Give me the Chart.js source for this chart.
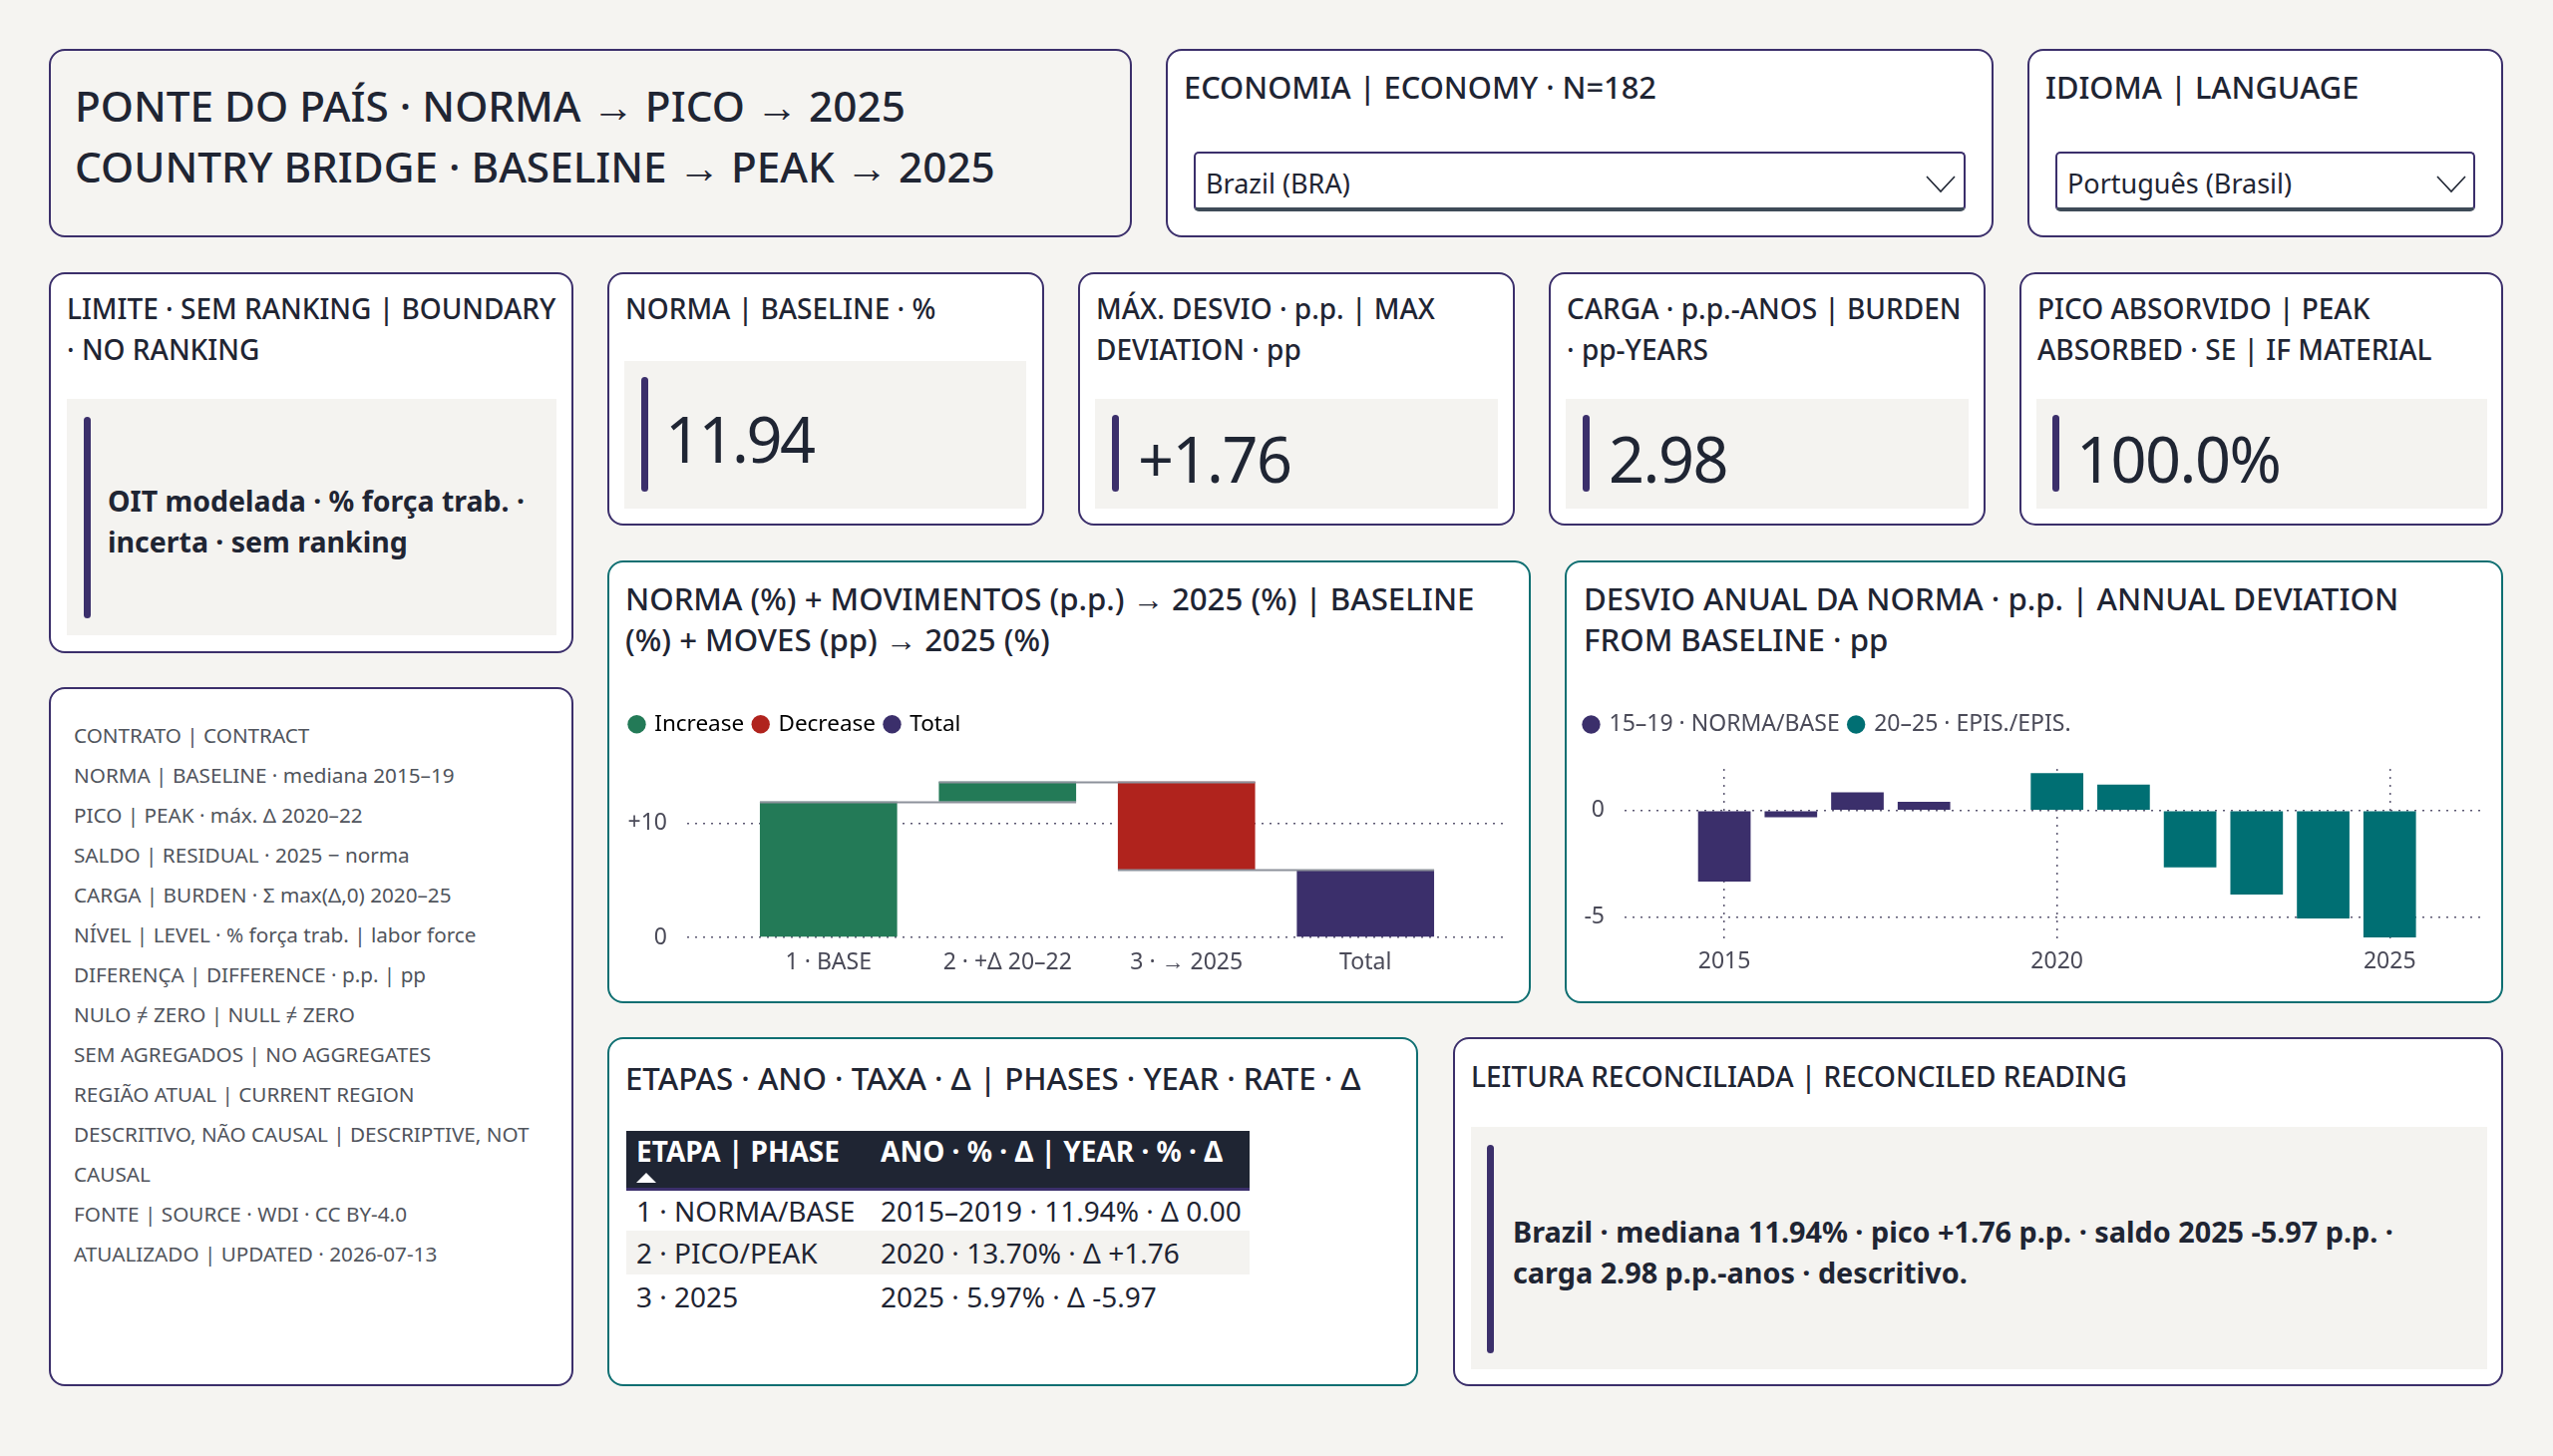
<!DOCTYPE html>
<html lang="pt-BR">
<head>
<meta charset="utf-8">
<title>Ponte do país · norma → pico → 2025</title>
<script src="https://cdn.jsdelivr.net/npm/chart.js@4.4.1/dist/chart.umd.min.js"></script>
<style>
  html, body { margin: 0; padding: 0; }
  body { width: 2560px; height: 1460px; background: #f5f4f1; position: relative; overflow: hidden;
         font-family: "Noto Sans", "Open Sans", sans-serif; color: #1f2533; }
  .card { position: absolute; box-sizing: border-box; background: #fff; border: 2.5px solid #3b2f6b; border-radius: 16px; }
  .teal { border-color: #0f6f72; }
  .t { position: absolute; white-space: nowrap; font-weight: 500; }
  .ktl { font-size: 28px; line-height: 41px; }
  .ctl { font-size: 31.2px; line-height: 41px; }
  .box { position: absolute; background: #f4f3f0; }
  .acc { position: absolute; width: 7px; background: #3b2f6b; border-radius: 4px; }
  .val { font-size: 63px; line-height: 64px; letter-spacing: -1.5px; font-weight: 400; }
  .note { font-size: 28.5px; line-height: 41px; font-weight: 700; }
  .dd { position: absolute; box-sizing: border-box; background: #fff; border: 2px solid #3b2f6b; border-bottom: 4px solid #3e4b58; border-radius: 5px; }
  .dd span { position: absolute; left: 10px; top: 12px; font-size: 27px; line-height: 36px; }
  .dd svg { position: absolute; top: 22px; }
  #list { font-weight: 400; }
  #list div { font-size: 20.7px; line-height: 40px; color: #50545c; white-space: nowrap; }
  #tbl { position: absolute; left: 628px; top: 1134px; width: 625px; border-collapse: collapse; }
  #tbl th { background: #1f2533; color: #fff; font-size: 28px; font-weight: 700; text-align: left; vertical-align: top;
            padding: 2px 0 0 10px; line-height: 36px; height: 55px; border-bottom: 3px solid #3b2f6b; white-space: nowrap; }
  #tbl td { font-size: 28px; line-height: 36px; padding: 0 0 0 10px; white-space: nowrap; }
  .tri { width: 0; height: 0; border-left: 10px solid transparent; border-right: 10px solid transparent; border-bottom: 10px solid #fff; margin-top: 4px; }
  canvas { position: absolute; }
</style>
</head>
<body>

<!-- header -->
<div class="card" style="left:49px;top:49px;width:1086px;height:189px;background:#f5f4f1"></div>
<div class="t" style="left:75px;top:75px;font-size:42.3px;line-height:61px">PONTE DO PAÍS · NORMA → PICO → 2025<br>COUNTRY BRIDGE · BASELINE → PEAK → 2025</div>

<div class="card" style="left:1169px;top:49px;width:830px;height:189px"></div>
<div class="t ctl" style="left:1187px;top:67px;font-size:30.8px">ECONOMIA | ECONOMY · N=182</div>
<div class="dd" style="left:1197px;top:152px;width:774px;height:60px"><span>Brazil (BRA)</span>
  <svg style="left:732px" width="30" height="18"><polyline points="1,1 15,16 29,1" fill="none" stroke="#1f2533" stroke-width="1.6"/></svg></div>

<div class="card" style="left:2033px;top:49px;width:477px;height:189px"></div>
<div class="t ctl" style="left:2051px;top:67px;font-size:30.8px">IDIOMA | LANGUAGE</div>
<div class="dd" style="left:2061px;top:152px;width:421px;height:60px"><span>Português (Brasil)</span>
  <svg style="left:380px" width="30" height="18"><polyline points="1,1 15,16 29,1" fill="none" stroke="#1f2533" stroke-width="1.6"/></svg></div>

<!-- KPI row -->
<div class="card" style="left:49px;top:273px;width:526px;height:382px"></div>
<div class="t ktl" style="left:67px;top:289px">LIMITE · SEM RANKING | BOUNDARY<br>· NO RANKING</div>
<div class="box" style="left:67px;top:400px;width:491px;height:237px"></div>
<div class="acc" style="left:84px;top:418px;height:202px"></div>
<div class="t note" style="left:108px;top:482px">OIT modelada · % força trab. ·<br>incerta · sem ranking</div>

<div class="card" style="left:609px;top:273px;width:438px;height:254px"></div>
<div class="t ktl" style="left:627px;top:289px">NORMA | BASELINE · %</div>
<div class="box" style="left:626px;top:362px;width:403px;height:148px"></div>
<div class="acc" style="left:643px;top:378px;height:115px"></div>
<div class="t val" style="left:667px;top:408px;letter-spacing:-2.5px">11.94</div>

<div class="card" style="left:1081px;top:273px;width:438px;height:254px"></div>
<div class="t ktl" style="left:1099px;top:289px">MÁX. DESVIO · p.p. | MAX<br>DEVIATION · pp</div>
<div class="box" style="left:1098px;top:400px;width:404px;height:110px"></div>
<div class="acc" style="left:1115px;top:416px;height:77px"></div>
<div class="t val" style="left:1141px;top:428px">+1.76</div>

<div class="card" style="left:1553px;top:273px;width:438px;height:254px"></div>
<div class="t ktl" style="left:1571px;top:289px">CARGA · p.p.-ANOS | BURDEN<br>· pp-YEARS</div>
<div class="box" style="left:1570px;top:400px;width:404px;height:110px"></div>
<div class="acc" style="left:1587px;top:416px;height:77px"></div>
<div class="t val" style="left:1613px;top:428px">2.98</div>

<div class="card" style="left:2025px;top:273px;width:485px;height:254px"></div>
<div class="t ktl" style="left:2043px;top:289px">PICO ABSORVIDO | PEAK<br>ABSORBED · SE | IF MATERIAL</div>
<div class="box" style="left:2042px;top:400px;width:452px;height:110px"></div>
<div class="acc" style="left:2058px;top:416px;height:77px"></div>
<div class="t val" style="left:2082px;top:428px">100.0%</div>

<!-- charts -->
<div class="card teal" style="left:609px;top:562px;width:926px;height:444px"></div>
<div class="t ctl" style="left:627px;top:580px">NORMA (%) + MOVIMENTOS (p.p.) → 2025 (%) | BASELINE<br>(%) + MOVES (pp) → 2025 (%)</div>
<canvas id="wf" width="895" height="275" style="left:622px;top:705px"></canvas>

<div class="card teal" style="left:1569px;top:562px;width:941px;height:444px"></div>
<div class="t ctl" style="left:1588px;top:580px">DESVIO ANUAL DA NORMA · p.p. | ANNUAL DEVIATION<br>FROM BASELINE · pp</div>
<canvas id="dev" width="918" height="277" style="left:1579px;top:705px"></canvas>

<!-- contract list -->
<div class="card" style="left:49px;top:689px;width:526px;height:701px"></div>
<div id="list" class="t" style="left:74px;top:717px">
  <div>CONTRATO | CONTRACT</div>
  <div>NORMA | BASELINE · mediana 2015–19</div>
  <div>PICO | PEAK · máx. Δ 2020–22</div>
  <div>SALDO | RESIDUAL · 2025 − norma</div>
  <div>CARGA | BURDEN · Σ max(Δ,0) 2020–25</div>
  <div>NÍVEL | LEVEL · % força trab. | labor force</div>
  <div>DIFERENÇA | DIFFERENCE · p.p. | pp</div>
  <div>NULO ≠ ZERO | NULL ≠ ZERO</div>
  <div>SEM AGREGADOS | NO AGGREGATES</div>
  <div>REGIÃO ATUAL | CURRENT REGION</div>
  <div>DESCRITIVO, NÃO CAUSAL | DESCRIPTIVE, NOT<br>CAUSAL</div>
  <div>FONTE | SOURCE · WDI · CC BY-4.0</div>
  <div>ATUALIZADO | UPDATED · 2026-07-13</div>
</div>

<!-- phases table -->
<div class="card teal" style="left:609px;top:1040px;width:813px;height:350px"></div>
<div class="t ctl" style="left:627px;top:1061px">ETAPAS · ANO · TAXA · Δ | PHASES · YEAR · RATE · Δ</div>
<table id="tbl">
  <thead><tr><th style="width:235px">ETAPA | PHASE<div class="tri"></div></th><th>ANO · % · Δ | YEAR · % · Δ</th></tr></thead>
  <tbody id="tbody"></tbody>
</table>

<!-- reconciled reading -->
<div class="card" style="left:1457px;top:1040px;width:1053px;height:350px"></div>
<div class="t ctl" style="left:1475px;top:1059px;font-size:28px">LEITURA RECONCILIADA | RECONCILED READING</div>
<div class="box" style="left:1475px;top:1130px;width:1019px;height:243px"></div>
<div class="acc" style="left:1491px;top:1148px;height:209px"></div>
<div class="t note" style="left:1517px;top:1214px;font-size:28.8px">Brazil · mediana 11.94% · pico +1.76 p.p. · saldo 2025 -5.97 p.p. ·<br>carga 2.98 p.p.-anos · descritivo.</div>

<script>
// ---- data ----
const wfLabels = ['1 · BASE', '2 · +Δ 20–22', '3 · → 2025', 'Total'];
const wfFrom   = [0, 11.94, 13.70, 0];
const wfTo     = [11.94, 13.70, 5.97, 5.97];
const wfKind   = ['Increase', 'Increase', 'Decrease', 'Total'];
const wfLegend = ['Increase', 'Decrease', 'Total'];

const devYearsBase = [2015, 2016, 2017, 2018, 2019];
const devBase      = [-3.34, -0.31, 0.86, 0.41, 0];
const devYearsEpis = [2020, 2021, 2022, 2023, 2024, 2025];
const devEpis      = [1.76, 1.22, -2.67, -3.95, -5.08, -5.97];
const devTicksX    = [2015, 2020, 2025];
const devTicksY    = [-5, 0];

const tblPhase = ['1 · NORMA/BASE', '2 · PICO/PEAK', '3 · 2025'];
const tblYear  = ['2015–2019', '2020', '2025'];
const tblRate  = ['11.94%', '13.70%', '5.97%'];
const tblDelta = ['0.00', '+1.76', '-5.97'];

const kindColor = { Increase: '#237a57', Decrease: '#b0231d', Total: '#3b2f6b' };
const ink = '#4a4a58';
const dots = '#5c5872';

// table rows
const tbody = document.getElementById('tbody');
tblPhase.forEach((p, i) => {
  const tr = document.createElement('tr');
  tr.style.height = (i === 0 ? 41 : 44) + 'px';
  if (i === 1) tr.style.background = '#f4f3f0';
  tr.innerHTML = '<td>' + p + '</td><td>' + tblYear[i] + ' · ' + tblRate[i] + ' · Δ ' + tblDelta[i] + '</td>';
  tbody.appendChild(tr);
});

Chart.defaults.font.family = '"Noto Sans", "Open Sans", sans-serif';
Chart.defaults.color = ink;

// extra room under the legend
const legendGap = {
  id: 'legendGap',
  beforeLayout(chart, args, opts) {
    const lg = chart.legend;
    if (!lg || lg._gapDone) return;
    const fit = lg.fit;
    lg.fit = function () { fit.call(lg); lg.height += opts.gap || 0; };
    lg._gapDone = true;
  }
};

// waterfall connectors
const connectors = {
  id: 'connectors',
  afterDatasetsDraw(chart) {
    const meta = chart.getDatasetMeta(0);
    const y = chart.scales.y;
    const ctx = chart.ctx;
    ctx.save();
    ctx.strokeStyle = '#8d929b';
    ctx.lineWidth = 2;
    for (let i = 0; i < meta.data.length - 1; i++) {
      const a = meta.data[i], b = meta.data[i + 1];
      const py = Math.round(y.getPixelForValue(wfTo[i])) + 0.5;
      ctx.beginPath();
      ctx.moveTo(a.x - a.width / 2, py);
      ctx.lineTo(b.x + b.width / 2, py);
      ctx.stroke();
    }
    ctx.restore();
  }
};

const legendLabels = {
  usePointStyle: true, pointStyle: 'circle', boxWidth: 13, boxHeight: 13,
  padding: 10, font: { size: 23 }, color: ink
};

new Chart(document.getElementById('wf'), {
  type: 'bar',
  data: {
    datasets: [{
      data: wfLabels.map((l, i) => ({ x: i, y: [wfFrom[i], wfTo[i]] })),
      backgroundColor: wfKind.map(k => kindColor[k]),
      categoryPercentage: 1,
      barPercentage: 0.767,
      borderSkipped: false
    }]
  },
  options: {
    responsive: false,
    animation: false,
    layout: { padding: { right: 6 } },
    plugins: {
      legend: {
        align: 'start',
        onClick: null,
        labels: Object.assign({}, legendLabels, {
          font: { size: 22.5 },
          generateLabels: () => wfLegend.map(k => ({
            text: k, fillStyle: kindColor[k], strokeStyle: kindColor[k], lineWidth: 0, pointStyle: 'circle'
          }))
        })
      },
      legendGap: { gap: 10 },
      tooltip: { enabled: false }
    },
    scales: {
      x: {
        type: 'linear', min: -0.79, max: 3.79, offset: false,
        grid: { display: false, offset: false },
        border: { display: false },
        afterBuildTicks: ax => { ax.ticks = wfLabels.map((l, i) => ({ value: i })); },
        afterFit: ax => { ax.height = 40; },
        ticks: { callback: v => wfLabels[v], font: { size: 23 }, color: ink, padding: 4, autoSkip: false, maxRotation: 0 }
      },
      y: {
        min: 0, max: 16,
        grid: { color: dots, lineWidth: 1.5, drawTicks: false },
        border: { display: false, dash: [2, 6] },
        afterBuildTicks: ax => { ax.ticks = [{ value: 0 }, { value: 10 }]; },
        afterFit: ax => { ax.width = 67; },
        ticks: { callback: v => (v > 0 ? '+' + v : String(v)), font: { size: 23 }, color: ink, padding: 20 }
      }
    }
  },
  plugins: [legendGap, connectors]
});

new Chart(document.getElementById('dev'), {
  type: 'bar',
  data: {
    datasets: [
      { label: '15–19 · NORMA/BASE', stack: 'd', backgroundColor: '#3b2f6b',
        data: devYearsBase.map((x, i) => ({ x, y: devBase[i] })) },
      { label: '20–25 · EPIS./EPIS.', stack: 'd', backgroundColor: '#006f73',
        data: devYearsEpis.map((x, i) => ({ x, y: devEpis[i] })) }
    ]
  },
  options: {
    responsive: false,
    animation: false,
    layout: { padding: { right: 6 } },
    datasets: { bar: { categoryPercentage: 1, barPercentage: 0.79 } },
    plugins: {
      legend: { align: 'start', onClick: null, labels: legendLabels },
      legendGap: { gap: 23 },
      tooltip: { enabled: false }
    },
    scales: {
      x: {
        type: 'linear', min: 2013.5, max: 2026.42, offset: false,
        grid: { color: dots, lineWidth: 1.5, drawTicks: false, offset: false },
        border: { display: false, dash: [2, 6] },
        afterBuildTicks: ax => { ax.ticks = devTicksX.map(v => ({ value: v })); },
        afterFit: ax => { ax.height = 40; },
        ticks: { callback: v => String(v), font: { size: 23 }, color: ink, padding: 9, maxRotation: 0 }
      },
      y: {
        min: -6.06, max: 1.96,
        grid: { color: dots, lineWidth: 1.5, drawTicks: false },
        border: { display: false, dash: [2, 6] },
        afterBuildTicks: ax => { ax.ticks = devTicksY.map(v => ({ value: v })); },
        afterFit: ax => { ax.width = 50; },
        ticks: { callback: v => String(v), font: { size: 23 }, color: ink, padding: 20 }
      }
    }
  },
  plugins: [legendGap]
});
</script>
</body>
</html>
